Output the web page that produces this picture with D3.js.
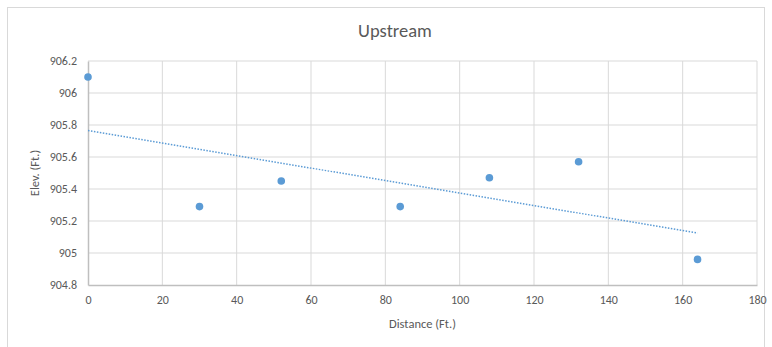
<!DOCTYPE html>
<html>
<head>
<meta charset="utf-8">
<script src="https://cdn.jsdelivr.net/npm/d3@7"></script>
<style>
html, body { margin: 0; padding: 0; background: #fff; overflow: hidden; }
svg { display: block; }
text { font-family: Carlito, Calibri, "Liberation Sans Narrow", "Open Sans", sans-serif; fill: #595959; }
</style>
</head>
<body>
<div id="main"></div>
<script>
var outerWidth = 772;
var outerHeight = 347;

var marginLeft = 88;
var marginTop = 61;
var marginRight = 15;
var marginBottom = 62;

var innerWidth = outerWidth - marginLeft - marginRight;
var innerHeight = outerHeight - marginTop - marginBottom;

// data
var distance = [0, 30, 52, 84, 108, 132, 164];
var elevation = [906.1, 905.29, 905.45, 905.29, 905.47, 905.57, 904.96];
var xTicks = [0, 20, 40, 60, 80, 100, 120, 140, 160, 180];
var yTicks = [904.8, 905, 905.2, 905.4, 905.6, 905.8, 906, 906.2];

var data = distance.map((d, i) => ({x: d, y: elevation[i]}));

var xScale = d3.scaleLinear().domain([0, 180]).range([0, innerWidth]);
var yScale = d3.scaleLinear().domain([904.8, 906.2]).range([innerHeight, 0]);

var svg = d3.select("#main")
    .append("svg")
    .attr("width", outerWidth)
    .attr("height", outerHeight);

svg.append("rect")
    .attr("x", 7.5).attr("y", 7.5)
    .attr("width", outerWidth - 15).attr("height", outerHeight - 5)
    .attr("fill", "#fff")
    .attr("stroke", "#d9d9d9");

svg.append("text")
    .attr("x", 395)
    .attr("y", 37)
    .attr("text-anchor", "middle")
    .style("font-size", "18.5px")
    .text("Upstream");

var g = svg.append("g")
    .attr("transform", "translate(" + marginLeft + "," + marginTop + ")");

// gridlines
g.append("g").selectAll("line").data(xTicks.slice(1)).enter()
    .append("line")
    .attr("x1", d => xScale(d)).attr("x2", d => xScale(d))
    .attr("y1", 0).attr("y2", innerHeight)
    .attr("stroke", "#d9d9d9");

g.append("g").selectAll("line").data(yTicks.slice(1)).enter()
    .append("line")
    .attr("x1", 0).attr("x2", innerWidth)
    .attr("y1", d => yScale(d)).attr("y2", d => yScale(d))
    .attr("stroke", "#d9d9d9");

var xAxis = d3.axisBottom(xScale).tickValues(xTicks).tickSize(0).tickPadding(10);
var yAxis = d3.axisLeft(yScale).tickValues(yTicks).tickSize(0).tickPadding(11)
    .tickFormat(d => +d.toFixed(1));

var xAxisG = g.append("g")
    .attr("transform", "translate(0," + innerHeight + ")")
    .call(xAxis);
var yAxisG = g.append("g").call(yAxis);

[xAxisG, yAxisG].forEach(a => {
    a.select(".domain").attr("stroke", "#bfbfbf").attr("stroke-width", 1.5);
    a.selectAll("text").style("font-size", "12px").attr("fill", "#595959")
        .style("font-family", "Carlito, Calibri, 'Liberation Sans Narrow', 'Open Sans', sans-serif");
});

g.append("text")
    .attr("text-anchor", "middle")
    .attr("transform", "translate(" + (innerWidth / 2) + "," + (innerHeight + 43) + ")")
    .style("font-size", "12.5px")
    .text("Distance (Ft.)");

g.append("text")
    .attr("text-anchor", "middle")
    .attr("transform", "translate(-49," + (innerHeight / 2) + ") rotate(-90)")
    .style("font-size", "12.5px")
    .text("Elev. (Ft.)");

// linear trendline
var mx = d3.mean(data, d => d.x);
var my = d3.mean(data, d => d.y);
var slope = d3.sum(data, d => (d.x - mx) * (d.y - my)) / d3.sum(data, d => (d.x - mx) * (d.x - mx));
var intercept = my - slope * mx;
var xEnds = d3.extent(distance);

g.append("line")
    .attr("x1", xScale(xEnds[0])).attr("y1", yScale(intercept + slope * xEnds[0]))
    .attr("x2", xScale(xEnds[1])).attr("y2", yScale(intercept + slope * xEnds[1]))
    .attr("stroke", "#5b9bd5")
    .attr("stroke-width", 1.5)
    .attr("stroke-dasharray", "1.5,1.5");

g.selectAll("circle").data(data).enter()
    .append("circle")
    .attr("cx", d => xScale(d.x))
    .attr("cy", d => yScale(d.y))
    .attr("r", 3.8)
    .attr("fill", "#5b9bd5");
</script>
</body>
</html>
